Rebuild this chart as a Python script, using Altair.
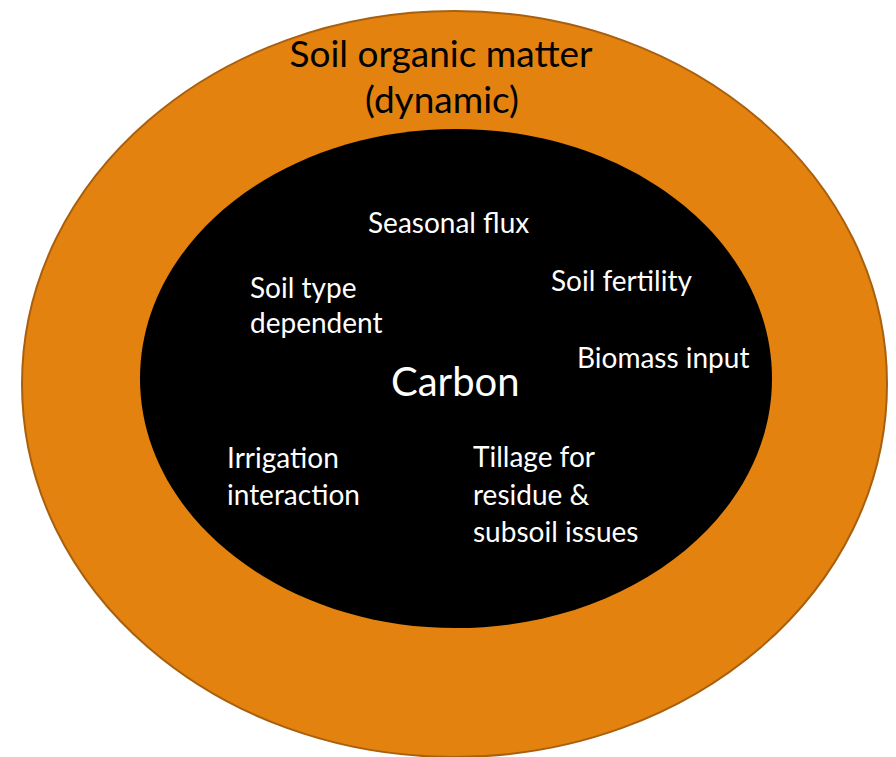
import altair as alt
import pandas as pd

# ---- ellipse layers (centre, radii in picture pixels) ----
ell_names = ["Soil organic matter", "Carbon core"]
ell_cx = [454.5, 456.0]
ell_cy = [384.0, 378.5]
ell_rx = [432.5, 316.0]
ell_ry = [373.0, 249.5]
ell_fill = ["#E3820F", "#000000"]
ell_stroke = ["#A8600E", "#000000"]
ell_sw = [2, 0]

# ---- text labels (left / centre x, baseline y) ----
title_lines = ["Soil organic matter", "(dynamic)"]
title_x = [441, 442]
title_y = [67, 113]

center_label = ["Carbon"]
center_x = [391]
center_y = [396]

labels = ["Seasonal flux", "Soil type", "dependent", "Soil fertility",
          "Biomass input", "Irrigation", "interaction",
          "Tillage for", "residue &", "subsoil issues"]
labels_x = [368, 250, 250, 551, 577, 227, 227, 473, 473, 473]
labels_y = [233, 298, 333, 291, 368, 468, 505, 467, 505, 542]

W, H = 880, 749
xs = alt.Scale(domain=[8, 8 + W], zero=False, nice=False)
ys = alt.Scale(domain=[8, 8 + H], zero=False, nice=False, reverse=True)


def ellipse_path(b):
    k = 0.5522847
    kb = k * b
    return (f"M1,0 C1,{kb:.4f} {k:.4f},{b:.4f} 0,{b:.4f} "
            f"C{-k:.4f},{b:.4f} -1,{kb:.4f} -1,0 "
            f"C-1,{-kb:.4f} {-k:.4f},{-b:.4f} 0,{-b:.4f} "
            f"C{k:.4f},{-b:.4f} 1,{-kb:.4f} 1,0 Z")


layers = []
for i in range(len(ell_names)):
    df = pd.DataFrame({"name": [ell_names[i]], "x": [ell_cx[i]], "y": [ell_cy[i]]})
    shape = ellipse_path(ell_ry[i] / ell_rx[i])
    mk = alt.Chart(df).mark_point(
        shape=shape, filled=True, fill=ell_fill[i], opacity=1,
        stroke=ell_stroke[i], strokeWidth=ell_sw[i], strokeOpacity=1 if ell_sw[i] else 0,
        size=(2 * ell_rx[i]) ** 2,
    ).encode(
        x=alt.X("x:Q", scale=xs, axis=None),
        y=alt.Y("y:Q", scale=ys, axis=None),
    )
    layers.append(mk)

title_df = pd.DataFrame({"t": title_lines, "x": title_x, "y": title_y})
title = alt.Chart(title_df).mark_text(
    font="Lato", fontSize=37, color="#000000", align="center", baseline="alphabetic"
).encode(x=alt.X("x:Q", scale=xs, axis=None), y=alt.Y("y:Q", scale=ys, axis=None), text="t:N")

center_df = pd.DataFrame({"t": center_label, "x": center_x, "y": center_y})
center = alt.Chart(center_df).mark_text(
    font="Lato", fontSize=40, color="#FFFFFF", align="left", baseline="alphabetic"
).encode(x=alt.X("x:Q", scale=xs, axis=None), y=alt.Y("y:Q", scale=ys, axis=None), text="t:N")

lab_df = pd.DataFrame({"t": labels, "x": labels_x, "y": labels_y})
labs = alt.Chart(lab_df).mark_text(
    font="Lato", fontSize=28, color="#FFFFFF", align="left", baseline="alphabetic"
).encode(x=alt.X("x:Q", scale=xs, axis=None), y=alt.Y("y:Q", scale=ys, axis=None), text="t:N")

chart = alt.layer(*layers, title, center, labs).properties(
    width=W, height=H, padding=0, autosize=alt.AutoSizeParams(type="none"),
    background="#FFFFFF",
).configure_view(stroke=None)

chart.save("out.html", embed_options={"renderer": "svg", "actions": False})
